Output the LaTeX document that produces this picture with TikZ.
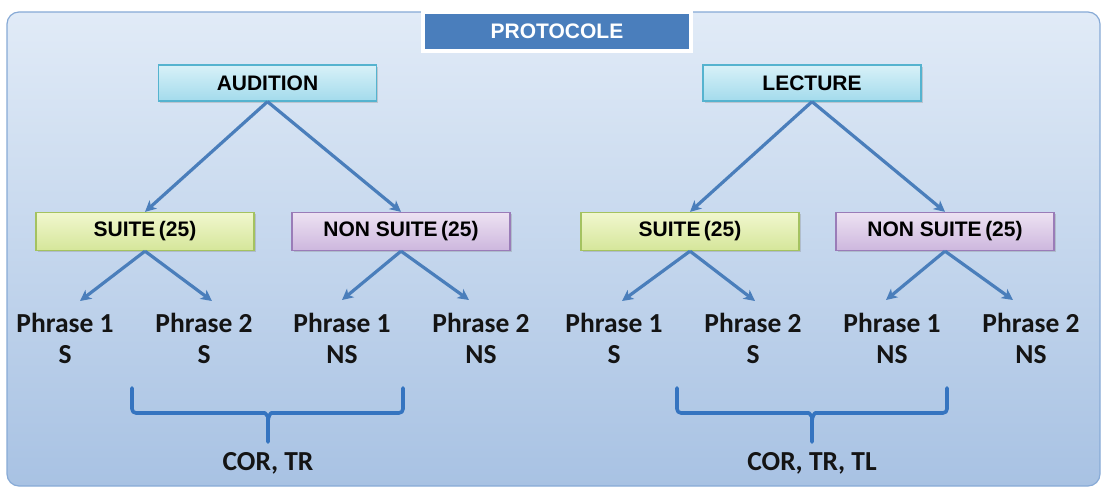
\documentclass[tikz,border=0pt]{standalone}
\usepackage{fontspec}
\newfontfamily\boxfont{Liberation Sans}
\newfontfamily\calfont{Carlito}
\usetikzlibrary{arrows.meta,shadows}
\definecolor{panelTop}{HTML}{E1EBF7}
\definecolor{panelBot}{HTML}{A8C2E3}
\definecolor{panelBorder}{HTML}{87AAD6}
\definecolor{protoBlue}{HTML}{4A7EBC}
\definecolor{cyanT}{HTML}{D8F1F8}
\definecolor{cyanB}{HTML}{A3DBEC}
\definecolor{cyanD}{HTML}{55B3CF}
\definecolor{greenT}{HTML}{F1F7CE}
\definecolor{greenB}{HTML}{D5E69A}
\definecolor{greenD}{HTML}{A4C260}
\definecolor{purpT}{HTML}{EDE2F2}
\definecolor{purpB}{HTML}{CDB7DE}
\definecolor{purpD}{HTML}{9A7CB8}
\definecolor{arrowBlue}{HTML}{4A7EBB}
\definecolor{braceBlue}{HTML}{3574C0}
\tikzset{
  lvlbox/.style={draw, line width=1.3pt, inner sep=0pt, minimum width=218pt,
    font=\boxfont\bfseries\fontsize{21}{25}\selectfont, text=black,
    drop shadow={opacity=0.3, shadow xshift=1.5pt, shadow yshift=-1.5pt}},
  cyanbox/.style={lvlbox, minimum height=36pt, draw=cyanD, top color=cyanT, bottom color=cyanB},
  greenbox/.style={lvlbox, minimum height=38pt, draw=greenD, top color=greenT, bottom color=greenB},
  purpbox/.style={lvlbox, minimum height=38pt, draw=purpD, top color=purpT, bottom color=purpB},
  phr/.style={anchor=base, inner sep=0pt, font=\calfont\bfseries\fontsize{27.5}{33}\selectfont, text=black!92},
  arr/.style={draw=arrowBlue, line width=3.2pt, -{Stealth[length=11pt,width=11pt,inset=3pt]}},
  bracestroke/.style={draw=braceBlue, line width=3.6pt, line cap=round, line join=round},
}
\begin{document}
\begin{tikzpicture}[x=1pt,y=-1pt]
\useasboundingbox (0,0) rectangle (1102,487);
% panel
\draw[draw=panelBorder, line width=1.2pt, rounded corners=12pt, top color=panelTop, bottom color=panelBot] (7,12) rectangle (1100,486);
% title
\node[fill=protoBlue, draw=white, line width=4pt, minimum width=268pt, minimum height=39pt, inner sep=0pt,
  drop shadow={opacity=0.35, shadow xshift=1.5pt, shadow yshift=-2pt},
  text=white, font=\boxfont\bfseries\fontsize{21}{25}\selectfont] (proto) at (557,31.5) {PROTOCOLE};
% level 1
\node[cyanbox] (aud) at (267.5,83) {AUDITION};
\node[cyanbox] (lec) at (812,83) {LECTURE};
% level 2
\node[greenbox] (s1) at (145,231.5) {SUITE\,(25)};
\node[purpbox] (n1) at (401,231.5) {NON SUITE\,(25)};
\node[greenbox] (s2) at (690,231.5) {SUITE\,(25)};
\node[purpbox] (n2) at (945,231.5) {NON SUITE\,(25)};
% leaves left
\node[phr] (a1) at (65,332) {Phrase 1};  \node[phr] (a1b) at (65,363) {S};
\node[phr] (a2) at (204,332) {Phrase 2}; \node[phr] (a2b) at (204,363) {S};
\node[phr] (a3) at (342,332) {Phrase 1}; \node[phr] (a3b) at (342,363) {NS};
\node[phr] (a4) at (481,332) {Phrase 2}; \node[phr] (a4b) at (481,363) {NS};
% leaves right
\node[phr] (b1) at (614,332) {Phrase 1};  \node[phr] (b1b) at (614,363) {S};
\node[phr] (b2) at (753,332) {Phrase 2};  \node[phr] (b2b) at (753,363) {S};
\node[phr] (b3) at (892,332) {Phrase 1};  \node[phr] (b3b) at (892,363) {NS};
\node[phr] (b4) at (1031,332) {Phrase 2}; \node[phr] (b4b) at (1031,363) {NS};
% arrow tips
\coordinate (ta1) at (80,301);  \coordinate (ta2) at (212,301);
\coordinate (ta3) at (342,300); \coordinate (ta4) at (469,300);
\coordinate (tb1) at (622,301); \coordinate (tb2) at (755,301);
\coordinate (tb3) at (886,300); \coordinate (tb4) at (1013,300);
% arrows
\draw[arr] (aud.south) -- (s1.north);
\draw[arr] (aud.south) -- (n1.north);
\draw[arr] (lec.south) -- (s2.north);
\draw[arr] (lec.south) -- (n2.north);
\draw[arr] (s1.south) -- (ta1);
\draw[arr] (s1.south) -- (ta2);
\draw[arr] (n1.south) -- (ta3);
\draw[arr] (n1.south) -- (ta4);
\draw[arr] (s2.south) -- (tb1);
\draw[arr] (s2.south) -- (tb2);
\draw[arr] (n2.south) -- (tb3);
\draw[arr] (n2.south) -- (tb4);
% braces
\coordinate (la) at (132,388); \coordinate (lb) at (132,413);
\coordinate (lc) at (403,388); \coordinate (ld) at (403,413);
\coordinate (lm) at (268,421); \coordinate (le) at (268,442);
\draw[bracestroke, rounded corners=4pt] (la) -- (lb) -- (261,413) to[out=0,in=90] (lm) -- (le);
\draw[bracestroke, rounded corners=4pt] (lc) -- (ld) -- (275,413) to[out=180,in=90] (lm);
\coordinate (ra) at (677,388); \coordinate (rb) at (677,413);
\coordinate (rc) at (947,388); \coordinate (rd) at (947,413);
\coordinate (rm) at (812,421); \coordinate (re) at (812,442);
\draw[bracestroke, rounded corners=4pt] (ra) -- (rb) -- (805,413) to[out=0,in=90] (rm) -- (re);
\draw[bracestroke, rounded corners=4pt] (rc) -- (rd) -- (819,413) to[out=180,in=90] (rm);
% labels
\node[phr] (lab1) at (268,470) {COR, TR};
\node[phr] (lab2) at (812,470) {COR, TR, TL};
\end{tikzpicture}
\end{document}
